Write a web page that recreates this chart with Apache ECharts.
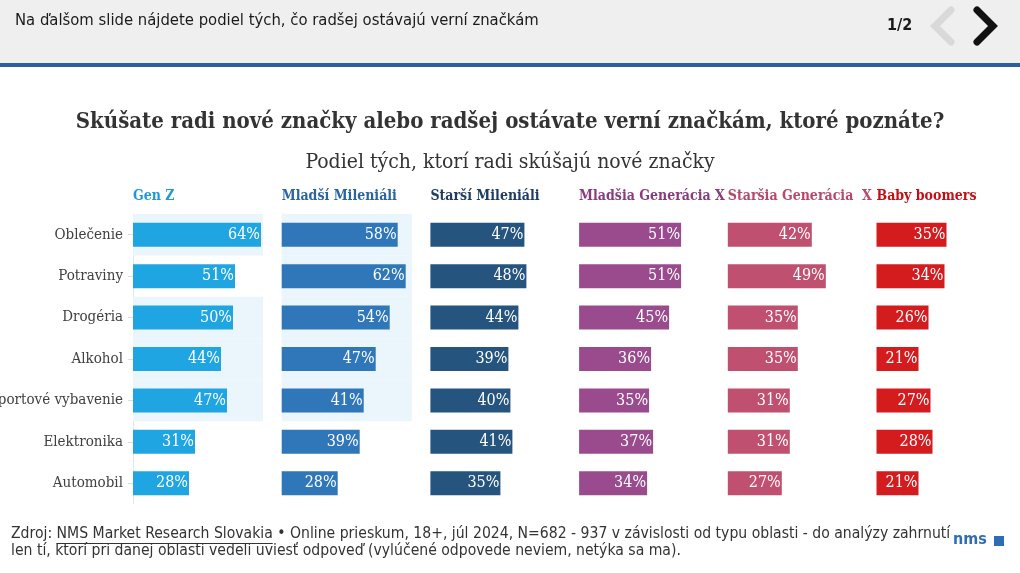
<!DOCTYPE html>
<html>
<head>
<meta charset="utf-8">
<script src="https://cdn.jsdelivr.net/npm/echarts@6/dist/echarts.min.js"></script>
<style>
html,body{margin:0;padding:0;background:#fff;}
#chart{width:1020px;height:573px;}
</style>
</head>
<body>
<div id="chart"></div>
<script>
// ---- data ----
const categories = ['Oblečenie', 'Potraviny', 'Drogéria', 'Alkohol', 'Športové vybavenie', 'Elektronika', 'Automobil'];
const groupNames = ['Gen Z', 'Mladší Mileniáli', 'Starší Mileniáli', 'Mladšia Generácia X', 'Staršia Generácia  X', 'Baby boomers'];
const genZ = [64, 51, 50, 44, 47, 31, 28];
const mladsiMileniali = [58, 62, 54, 47, 41, 39, 28];
const starsiMileniali = [47, 48, 44, 39, 40, 41, 35];
const mladsiaGenX = [51, 51, 45, 36, 35, 37, 34];
const starsiaGenX = [42, 49, 35, 35, 31, 31, 27];
const babyBoomers = [35, 34, 26, 21, 27, 28, 21];
const genZHighlight = ['Oblečenie', 'Drogéria', 'Alkohol', 'Športové vybavenie'];
const mladsiMilenialiHighlight = ['Oblečenie', 'Potraviny', 'Drogéria', 'Alkohol', 'Športové vybavenie'];
const axisMax = 65;

const headerText = 'Na ďalšom slide nájdete podiel tých, čo radšej ostávajú verní značkám';
const titleText = 'Skúšate radi nové značky alebo radšej ostávate verní značkám, ktoré poznáte?';
const subtitleText = 'Podiel tých, ktorí radi skúšajú nové značky';
const pageText = '1/2';
const sourcePrefix = 'Zdroj: ';
const sourceLink = 'NMS Market Research Slovakia';
const sourceRest = ' • Online prieskum, 18+, júl 2024, N=682 - 937 v závislosti od typu oblasti - do analýzy zahrnutí';
const sourceLine2 = 'len tí, ktorí pri danej oblasti vedeli uviesť odpoveď (vylúčené odpovede neviem, netýka sa ma).';

// ---- styles ----
const seriesData = [genZ, mladsiMileniali, starsiMileniali, mladsiaGenX, starsiaGenX, babyBoomers];
const highlights = [genZHighlight, mladsiMilenialiHighlight, [], [], [], []];
const barColors = ['#1fa6e2', '#2f77b8', '#25547f', '#9a4b8d', '#c0506f', '#d41c1e'];
const titleColors = ['#1c9ad8', '#2a64a3', '#1f3d62', '#8a3b7e', '#b8486a', '#c40f17'];
const serif = '"DejaVu Serif", serif';
const serifC = '"DejaVu Serif Condensed", "DejaVu Serif", serif';
const narrow = '"Liberation Sans Narrow", "DejaVu Sans Condensed", sans-serif';

const panelLeft0 = 133, panelStep = 148.7, panelWidth = 130, gridTop = 214, gridHeight = 290;

const chart = echarts.init(document.getElementById('chart'), null, {renderer: 'canvas'});

const grids = [], xAxes = [], yAxes = [], series = [], graphics = [];

function measure(text, font) {
  const c = document.createElement('canvas').getContext('2d');
  c.font = font;
  return c.measureText(text).width;
}

seriesData.forEach((vals, i) => {
  const left = panelLeft0 + i * panelStep;
  grids.push({left: left, top: gridTop, width: panelWidth, height: gridHeight, containLabel: false, outerBoundsMode: 'none'});
  xAxes.push({type: 'value', gridIndex: i, min: 0, max: axisMax, show: false});
  const yi = yAxes.length;
  yAxes.push({
    type: 'category', gridIndex: i, data: categories, inverse: true,
    axisLine: {show: i === 0, lineStyle: {color: '#e6e6e6'}},
    axisTick: {show: i === 0, length: 5, alignWithLabel: true, lineStyle: {color: '#dcdcdc'}},
    axisLabel: {show: i === 0, color: '#404040', fontFamily: serifC, fontSize: 15, margin: 10},
    splitLine: {show: false}
  });
  if (highlights[i].length) {
    const bi = yAxes.length;
    yAxes.push({type: 'category', gridIndex: i, data: categories, inverse: true, show: false});
    series.push({
      type: 'bar', xAxisIndex: i, yAxisIndex: bi, silent: true, z: 1,
      barWidth: '100%',
      itemStyle: {color: '#eaf5fc'},
      data: categories.map(c => highlights[i].includes(c) ? axisMax : '-')
    });
  }
  series.push({
    type: 'bar', xAxisIndex: i, yAxisIndex: yi, z: 2,
    barWidth: 24,
    data: vals,
    itemStyle: {color: barColors[i]},
    label: {
      show: true, position: 'insideRight', distance: 1,
      formatter: p => p.value + '%',
      color: '#fff', fontFamily: serifC, fontSize: 16
    }
  });
  graphics.push({
    type: 'text', left: left, top: 189,
    style: {text: groupNames[i], fill: titleColors[i], font: 'bold 14px ' + serifC}
  });
});

// header
graphics.push({type: 'rect', left: 0, top: 0, shape: {width: 1020, height: 63}, style: {fill: '#efefef'}, z: -1});
graphics.push({type: 'rect', left: 0, top: 63, shape: {width: 1020, height: 4}, style: {fill: '#2c5f9d'}});
graphics.push({type: 'text', left: 15, top: 12, style: {text: headerText, fill: '#1a1a1a', font: '16.5px ' + narrow}});
graphics.push({type: 'text', left: 887, top: 18, style: {text: pageText, fill: '#1a1a1a', font: 'bold 16px ' + narrow}});
graphics.push({type: 'polyline', shape: {points: [[951, 10], [935, 26], [951, 42]]}, style: {stroke: '#d9d9d9', lineWidth: 7, fill: null, lineJoin: 'miter', lineCap: 'round'}});
graphics.push({type: 'polyline', shape: {points: [[977, 10], [993, 26], [977, 42]]}, style: {stroke: '#111', lineWidth: 7, fill: null, lineJoin: 'miter', lineCap: 'round'}});

// footer
const footFont = '15.6px ' + narrow;
const x0 = 11;
const w1 = measure(sourcePrefix, footFont);
const w2 = measure(sourceLink, footFont);
graphics.push({type: 'text', left: x0, top: 526, style: {text: sourcePrefix, fill: '#333', font: footFont}});
graphics.push({type: 'text', left: x0 + w1, top: 526, style: {text: sourceLink, fill: '#333', font: footFont}});
graphics.push({type: 'rect', left: x0 + w1, top: 543, shape: {width: w2, height: 1}, style: {fill: '#333'}});
graphics.push({type: 'text', left: x0 + w1 + w2, top: 526, style: {text: sourceRest, fill: '#333', font: footFont}});
graphics.push({type: 'text', left: x0, top: 543, style: {text: sourceLine2, fill: '#333', font: footFont}});
graphics.push({type: 'text', left: 953, top: 532, style: {text: 'nms', fill: '#2e6cb3', font: 'bold 16px ' + narrow}});
graphics.push({type: 'rect', left: 994, top: 536, shape: {width: 10, height: 10}, style: {fill: '#2e6cb3'}});

chart.setOption({
  backgroundColor: '#ffffff',
  animation: false,
  title: [
    {text: titleText, left: 'center', top: 106,
     textStyle: {fontFamily: serifC, fontWeight: 'bold', fontSize: 22, color: '#333'}},
    {text: subtitleText, left: 'center', top: 147,
     textStyle: {fontFamily: serifC, fontWeight: 'normal', fontSize: 21, color: '#333'}}
  ],
  grid: grids,
  xAxis: xAxes,
  yAxis: yAxes,
  series: series,
  graphic: graphics
});
</script>
</body>
</html>
